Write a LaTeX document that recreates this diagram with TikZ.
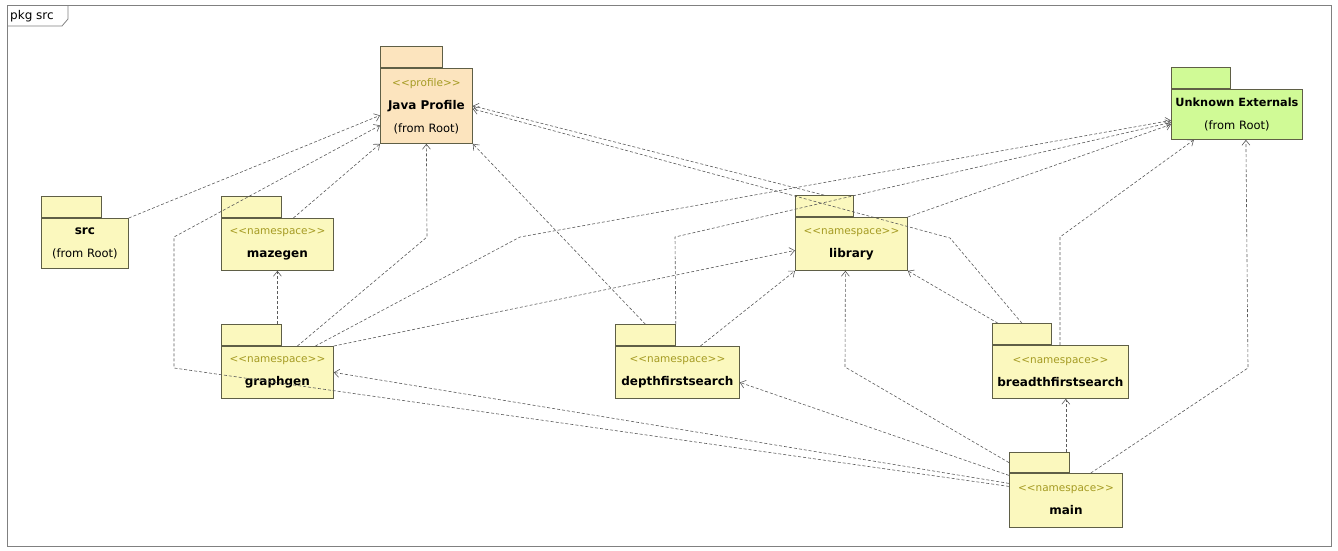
\documentclass[tikz,border=0pt]{standalone}
\usepackage{fontspec}
\newfontfamily\pkgfont{DejaVu Sans}
\usetikzlibrary{arrows.meta}
\definecolor{pkgyellow}{RGB}{251,248,190}
\definecolor{pkgpeach}{RGB}{252,228,190}
\definecolor{pkggreen}{RGB}{208,250,150}
\definecolor{pkgline}{RGB}{95,95,70}
\definecolor{stereo}{RGB}{165,155,35}
\definecolor{depline}{RGB}{90,90,90}
\newcommand{\stereotype}[1]{{\fontsize{10.5}{23}\selectfont\color{stereo}#1}}
\tikzset{
  pkg/.style={draw=pkgline, fill=#1, line width=0.8pt, anchor=north west, inner sep=0pt,
    align=center, minimum width=112pt, minimum height=52pt, font=\pkgfont\fontsize{11.5}{23}\selectfont},
  pkgtab/.style={draw=pkgline, fill=#1, line width=0.8pt, anchor=south west, inner sep=0pt,
    minimum width=60pt, minimum height=21pt},
  dep/.style={draw=depline, dash pattern=on 3pt off 2pt, line width=0.6pt,
    -{Straight Barb[length=5pt,width=8pt]}},
  frame/.style={draw=gray, line width=1pt}
}
\newcommand{\pname}[1]{{\fontsize{12}{23}\selectfont\bfseries #1}}
\begin{document}
\begin{tikzpicture}[x=1pt,y=-1pt]
\useasboundingbox (0,0) rectangle (1338,550);
\draw [frame] (7,5) rectangle (1331,546);
\node [anchor=west, inner sep=0pt, font=\pkgfont\fontsize{12}{14}\selectfont] (pkgsrc) at (10,16) {pkg src};
\draw [frame, line width=0.8pt] (7,26) -- (62,26) -- (68,19) -- (68,5);

\node [pkgtab=pkgpeach, minimum width=62pt] (jp-tab) at (380,68) {};
\node [pkg=pkgpeach, minimum width=92pt, minimum height=75pt] (jp) at (380,68)
  {\stereotype{<<profile>>}\\\pname{Java Profile}\\(from Root)};
\node [pkgtab=pkggreen, minimum width=59pt] (ue-tab) at (1171,89) {};
\node [pkg=pkggreen, minimum width=131pt, minimum height=50pt] (ue) at (1171,89)
  {{\fontsize{11.3}{23}\selectfont\bfseries Unknown Externals}\\(from Root)};
\node [pkgtab=pkgyellow] (src-tab) at (41,218) {};
\node [pkg=pkgyellow, minimum width=87pt, minimum height=50pt] (src) at (41,218)
  {\pname{src}\\(from Root)};
\node [pkgtab=pkgyellow] (mazegen-tab) at (221,218) {};
\node [pkg=pkgyellow] (mazegen) at (221,218) {\stereotype{<<namespace>>}\\\pname{mazegen}};
\node [pkgtab=pkgyellow] (graphgen-tab) at (221,346) {};
\node [pkg=pkgyellow] (graphgen) at (221,346) {\stereotype{<<namespace>>}\\\pname{graphgen}};
\node [pkgtab=pkgyellow, minimum width=58pt] (library-tab) at (795,217) {};
\node [pkg=pkgyellow, minimum height=53pt] (library) at (795,217) {\stereotype{<<namespace>>}\\\pname{library}};
\node [pkgtab=pkgyellow] (dfs-tab) at (615,346) {};
\node [pkg=pkgyellow, minimum width=124pt] (dfs) at (615,346) {\stereotype{<<namespace>>}\\\pname{depthfirstsearch}};
\node [pkgtab=pkgyellow, minimum width=59pt] (bfs-tab) at (992,345) {};
\node [pkg=pkgyellow, minimum width=136pt, minimum height=53pt] (bfs) at (992,345) {\stereotype{<<namespace>>}\\\pname{breadthfirstsearch}};
\node [pkgtab=pkgyellow, minimum height=20pt] (main-tab) at (1009,473) {};
\node [pkg=pkgyellow, minimum width=113pt, minimum height=54pt] (main) at (1009,473) {\stereotype{<<namespace>>}\\\pname{main}};

\coordinate (main-jp1) at (174,368);
\coordinate (main-jp2) at (174,237);
\coordinate (graphgen-jp) at (427,237);
\coordinate (graphgen-ue) at (520,237);
\coordinate (dfs-ue) at (675,237);
\coordinate (main-lib) at (845,367);
\coordinate (bfs-jp) at (950,238);
\coordinate (bfs-ue) at (1060,237);
\coordinate (main-ue) at (1248,368);
\coordinate (main-up) at ([xshift=-4pt]main-tab.north east);

\draw [dep] (src.north east) -- ([yshift=-9.5pt]jp.west);
\draw [dep] ([xshift=16pt]mazegen.north) -- (jp.south west);
\draw [dep] (graphgen-tab.north -| graphgen.north) -- (mazegen.south);
\draw [dep] ([xshift=20pt]graphgen.north) -- (graphgen-jp) -- (jp.south);
\draw [dep] ([xshift=38pt]graphgen.north) -- (graphgen-ue) -- ([yshift=-6pt]ue.west);
\draw [dep] (graphgen.north east) -- ([yshift=-6.5pt]library.west);
\draw [dep] (dfs-tab.north) -- (jp.south east);
\draw [dep] ([xshift=23pt]dfs.north) -- (library.south west);
\draw [dep] (dfs-tab.north east) -- (dfs-ue) -- ([yshift=-8pt]ue.west);
\draw [dep] (library.north east) -- ([yshift=-10pt]ue.west);
\draw [dep] (library-tab.north) -- (jp.east);
\draw [dep] ([xshift=-24pt]bfs-tab.north) -- (library.south east);
\draw [dep] (bfs-tab.north) -- (bfs-jp) -- ([yshift=-3pt]jp.east);
\draw [dep] (bfs.north -| bfs-ue) -- (bfs-ue) -- ([xshift=-43pt]ue.south);
\draw [dep] (main-tab.west) -- (main-lib) -- ([xshift=-6pt]library.south);
\draw [dep] (main-up) -- (main-up |- bfs.south);
\draw [dep] ([xshift=-32pt]main.north east) -- (main-ue) -- ([xshift=9pt]ue.south);
\draw [dep] ([yshift=25pt]main.west) -- ([yshift=-10pt]dfs.east);
\draw [dep] ([yshift=17pt]main.west) -- (graphgen.east);
\draw [dep] ([yshift=14pt]main.west) -- (main-jp1) -- (main-jp2) -- ([yshift=-19.5pt]jp.west);
\end{tikzpicture}
\end{document}
